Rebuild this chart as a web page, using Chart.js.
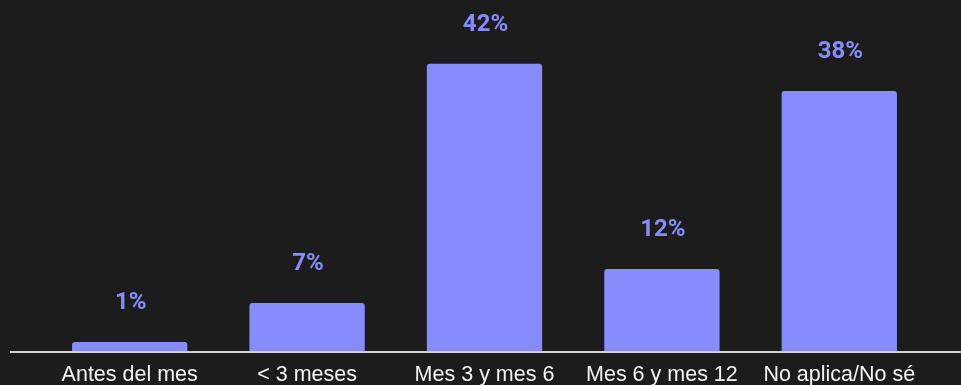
<!DOCTYPE html>
<html>
<head>
<meta charset="utf-8">
<script src="https://cdn.jsdelivr.net/npm/chart.js@4"></script>
<style>
  html, body { margin: 0; padding: 0; background: #1c1c1c; }
  #wrap { width: 961px; height: 385px; position: relative; }
</style>
</head>
<body>
<div id="wrap"><canvas id="grafico"></canvas></div>
<script>
// Datos del gráfico
const categorias = ['Antes del mes', '< 3 meses', 'Mes 3 y mes 6', 'Mes 6 y mes 12', 'No aplica/No sé'];
const porcentajes = [1.3, 7, 42, 12, 38];
const etiquetas = ['1%', '7%', '42%', '12%', '38%'];

const colorBarra = '#878cfc';

// Etiquetas encima de cada barra
const etiquetasPlugin = {
  id: 'etiquetas',
  afterDatasetsDraw(chart) {
    const ctx = chart.ctx;
    const meta = chart.getDatasetMeta(0);
    ctx.save();
    ctx.fillStyle = colorBarra;
    ctx.font = 'bold 24px Roboto, sans-serif';
    ctx.textAlign = 'center';
    ctx.textBaseline = 'middle';
    meta.data.forEach((bar, i) => {
      ctx.fillText(etiquetas[i], bar.x + 1, bar.y - 39);
    });
    ctx.restore();
  }
};

// Línea base que ocupa casi todo el ancho
const lineaBase = {
  id: 'lineaBase',
  afterDatasetsDraw(chart) {
    const ctx = chart.ctx;
    const y = chart.scales.y.getPixelForValue(0);
    ctx.save();
    ctx.strokeStyle = '#d0d0d0';
    ctx.lineWidth = 2;
    ctx.beginPath();
    ctx.moveTo(10, y + 1);
    ctx.lineTo(961, y + 1);
    ctx.stroke();
    ctx.restore();
  }
};

new Chart(document.getElementById('grafico'), {
  type: 'bar',
  data: {
    labels: categorias,
    datasets: [{
      data: porcentajes,
      backgroundColor: colorBarra,
      borderRadius: 3,
      borderSkipped: 'bottom',
      categoryPercentage: 0.65,
      barPercentage: 1
    }]
  },
  options: {
    responsive: true,
    maintainAspectRatio: false,
    animation: false,
    layout: { padding: { top: 9, left: 41, right: 33, bottom: 0 } },
    plugins: {
      legend: { display: false },
      tooltip: { enabled: false }
    },
    scales: {
      x: {
        grid: { display: false, drawTicks: false },
        border: { display: false },
        afterFit(scale) { scale.height = 34; },
        ticks: {
          color: '#f4f4f4',
          font: { family: 'Liberation Sans, Arial, sans-serif', size: 21.5, lineHeight: 1 },
          padding: 13,
          maxRotation: 0,
          autoSkip: false
        }
      },
      y: {
        display: false,
        min: 0,
        max: 50
      }
    }
  },
  plugins: [etiquetasPlugin, lineaBase]
});
</script>
</body>
</html>
